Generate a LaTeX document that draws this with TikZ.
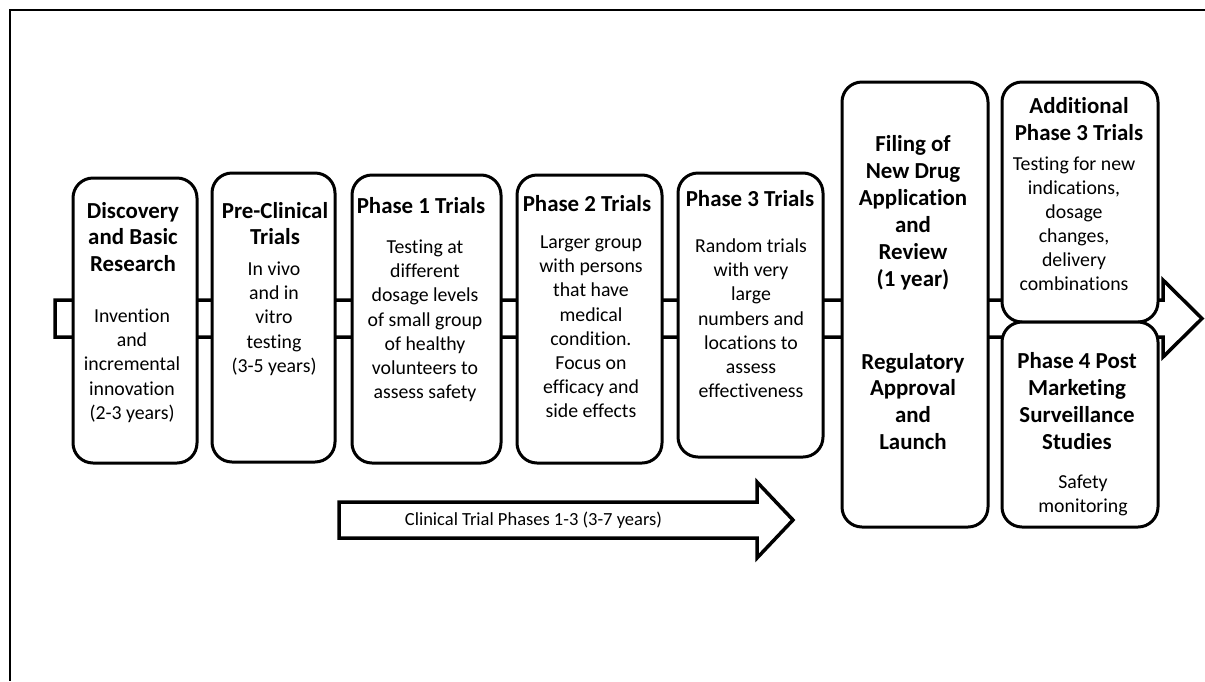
\documentclass[tikz,border=0pt]{standalone}
\usepackage{fontspec}
\setmainfont{Carlito}[Ligatures=NoCommon]
\begin{document}
\begin{tikzpicture}[x=1pt,y=-1pt,
  box/.style={draw, line width=3pt, rounded corners=20pt, fill=white, inner sep=0pt},
  ttl/.style={anchor=base, align=center, inner sep=0pt, font=\fontsize{22.9}{26.8}\selectfont\bfseries},
  bdy/.style={anchor=base, align=center, inner sep=0pt, font=\fontsize{19.8}{24.1}\selectfont},
  barrow/.style={draw, line width=3.5pt, fill=white, line join=miter}]
\useasboundingbox (0,0) rectangle (1205,681);
% frame
\draw[line width=2pt] (1205,10) -- (10,10) -- (10,681);
% main block arrow
\draw[barrow] (55,300) -- (1163,300) -- (1163,280) -- (1202,318.5) -- (1163,357) -- (1163,337) -- (55,337) -- cycle;
% clinical trial arrow
\draw[barrow] (339,502) -- (757,502) -- (757,482) -- (793,520) -- (757,558) -- (757,538) -- (339,538) -- cycle;
\node[anchor=base, inner sep=0pt, font=\fontsize{18.5}{22}\selectfont] (ctext) at (533.5,525.5) {Clinical Trial Phases 1-3 (3-7 years)};
% boxes
\node[box, minimum width=124pt, minimum height=285pt] (b1) at (135,320.5) {};
\node[box, minimum width=123pt, minimum height=289pt] (b2) at (273.5,317.5) {};
\node[box, minimum width=149pt, minimum height=288pt] (b3) at (426.5,319) {};
\node[box, minimum width=145pt, minimum height=288pt] (b4) at (589.5,319) {};
\node[box, minimum width=145pt, minimum height=284pt] (b5) at (750.5,315) {};
\node[box, minimum width=146pt, minimum height=445pt] (b6) at (915,304.5) {};
\node[box, minimum width=156pt, minimum height=240pt] (b7) at (1080,202) {};
\node[box, minimum width=156pt, minimum height=205pt] (b8) at (1080,424.5) {};
% texts (anchor=base is the baseline of the last line)
\node[ttl] (t1) at (133,271.6) {Discovery\\and Basic\\Research};
\node[bdy] (d1) at (132,419.1) {Invention\\and\\incremental\\innovation\\(2-3 years)};
\node[ttl] (t2) at (275,244.8) {Pre-Clinical\\Trials};
\node[bdy] (d2) at (274,372.1) {In vivo\\and in\\vitro\\testing\\(3-5 years)};
\node[ttl] (t3) at (421,213) {Phase 1 Trials};
\node[bdy] (d3) at (425,398.3) {Testing at\\different\\dosage levels\\of small group\\of healthy\\volunteers to\\assess safety};
\node[ttl] (t4) at (587,211) {Phase 2 Trials};
\node[bdy] (d4) at (591,417.4) {Larger group\\with persons\\that have\\medical\\condition.\\Focus on\\efficacy and\\side effects};
\node[ttl] (t5) at (750,206) {Phase 3 Trials};
\node[bdy] (d5) at (751,397.3) {Random trials\\with very\\large\\numbers and\\locations to\\assess\\effectiveness};
\node[ttl, font=\fontsize{22.9}{27}\selectfont\bfseries] (t6) at (913,286) {Filing of\\New Drug\\Application\\and\\Review\\(1 year)};
\node[ttl] (t6b) at (913,449.4) {Regulatory\\Approval\\and\\Launch};
\node[ttl, font=\fontsize{22.9}{27}\selectfont\bfseries] (t7) at (1079,140) {Additional\\Phase 3 Trials};
\node[bdy, font=\fontsize{19.8}{24}\selectfont] (d7) at (1074,290.7) {Testing for new\\indications,\\dosage\\changes,\\delivery\\combinations};
\node[ttl, font=\fontsize{22.9}{27}\selectfont\bfseries] (t8) at (1077,449) {Phase 4 Post\\Marketing\\Surveillance\\Studies};
\node[bdy, font=\fontsize{19.8}{23.5}\selectfont] (d8) at (1083,512.2) {Safety\\monitoring};
\end{tikzpicture}
\end{document}
